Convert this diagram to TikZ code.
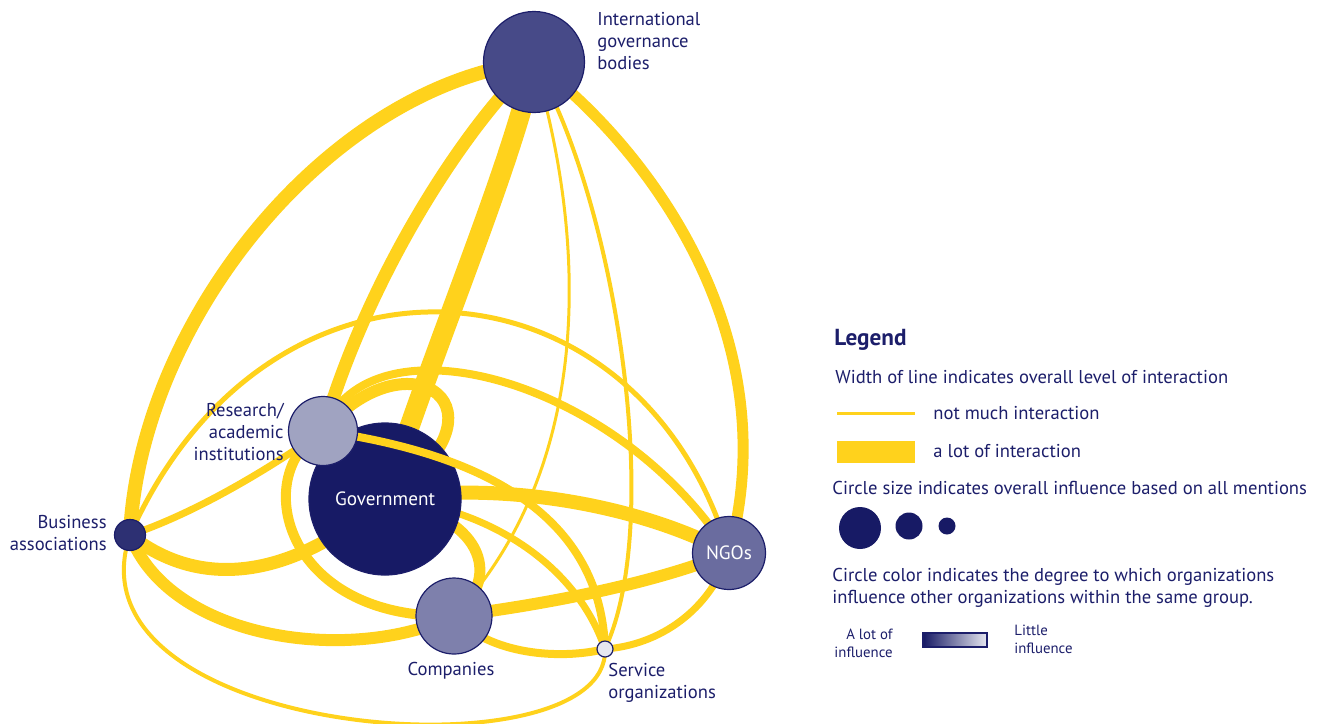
\documentclass[tikz,border=0pt]{standalone}
\usepackage{fontspec}
\setmainfont{PT Sans}

\definecolor{navy}{HTML}{1C1E6A}
\definecolor{linkgold}{HTML}{FFD21C}
\definecolor{govblue}{HTML}{171A65}
\definecolor{intlblue}{HTML}{474A88}
\definecolor{resblue}{HTML}{A0A3C1}
\definecolor{busblue}{HTML}{2D3073}
\definecolor{ngoblue}{HTML}{6A6C9F}
\definecolor{comblue}{HTML}{7E80AC}
\definecolor{svcblue}{HTML}{E6E7F0}

\pgfdeclarelayer{links}
\pgfdeclarelayer{front}
\pgfsetlayers{links,main,front}

\tikzset{
  org/.style={circle, draw=navy, line width=0.6pt, inner sep=0pt, minimum size=#1},
  tie/.style={draw=linkgold, line width=#1},
  lbl/.style={text=navy, inner sep=0pt, font=\fontsize{9.3}{11}\selectfont},
  small lbl/.style={text=navy, inner sep=0pt, font=\fontsize{7.4}{9}\selectfont},
  dot/.style={circle, fill=govblue, inner sep=0pt, minimum size=#1},
}

\begin{document}
\begin{tikzpicture}[x=0.5pt, y=-0.5pt]
  \useasboundingbox (0,0) rectangle (1320,723);

  % groups; government in the main layer, the rest on top of the links
  \node[org=76pt, fill=govblue, text=white, font=\fontsize{9.6}{11}\selectfont] (gov) at (385,499) {Government};
  \begin{pgfonlayer}{front}
    \node[org=50.5pt, fill=intlblue] (intl) at (534,62) {};
    \node[org=34.5pt, fill=resblue] (res) at (323,431) {};
    \node[org=15.5pt, fill=busblue] (bus) at (130,535) {};
    \node[org=36.5pt, fill=ngoblue, text=white, font=\fontsize{9.6}{11}\selectfont] (ngo) at (729,553) {NGOs};
    \node[org=38pt, fill=comblue] (com) at (454,616) {};
    \node[org=8pt, fill=svcblue] (svc) at (605,649) {};
  \end{pgfonlayer}

  % names (base = last line)
  \node[lbl, anchor=base west, align=left] (intl-txt) at (597,69) {International\\governance\\bodies};
  \node[lbl, anchor=base east, align=right] (res-txt) at (284,460) {Research/\\academic\\institutions};
  \node[lbl, anchor=base east, align=right] (bus-txt) at (107,550) {Business\\associations};
  \node[lbl, anchor=base] (com-txt) at (451,675) {Companies};
  \node[lbl, anchor=base west, align=left] (svc-txt) at (608,698) {Service\\organizations};

  % links, line width = amount of interaction
  \begin{pgfonlayer}{links}
    \draw[tie=7pt] (intl.center) .. controls (330,85) and (140,320) .. (bus.center);
    \draw[tie=6.5pt] (intl.center) .. controls (470,120) and (370,270) .. (res.center);
    \draw[tie=10pt] (intl.center) .. controls (510,170) and (440,330) .. (gov.center);
    \draw[tie=5.5pt] (intl.center) .. controls (640,140) and (790,330) .. (ngo.center);
    \draw[tie=1.5pt] (intl.center) .. controls (590,250) and (590,470) .. (com.center);
    \draw[tie=2pt] (intl.center) .. controls (615,200) and (665,520) .. (svc.center);
    \draw[tie=3.5pt] (res.center) .. controls (260,475) and (190,515) .. (bus.center);
    \draw[tie=4pt] (res.center) .. controls (370,310) and (620,380) .. (ngo.center);
    \draw[tie=6pt] (res.center) .. controls (410,330) and (520,410) .. (gov.center);
    \draw[tie=5pt] (res.center) .. controls (250,470) and (280,620) .. (com.center);
    \draw[tie=2.5pt] (bus.center) .. controls (270,220) and (640,250) .. (ngo.center);
    \draw[tie=6.5pt] (bus.center) .. controls (200,590) and (290,580) .. (gov.center);
    \draw[tie=6pt] (bus.center) .. controls (170,640) and (350,665) .. (com.center);
    \draw[tie=2pt] (bus.center) .. controls (60,740) and (610,780) .. (svc.center);
    \draw[tie=7pt] (gov.center) .. controls (500,480) and (640,505) .. (ngo.center);
    \draw[tie=5.5pt] (gov.center) .. controls (480,515) and (505,575) .. (com.center);
    \draw[tie=3.5pt] (gov.center) .. controls (480,505) and (575,560) .. (svc.center);
    \draw[tie=6pt] (com.center) .. controls (540,605) and (650,585) .. (ngo.center);
    \draw[tie=4pt] (com.center) .. controls (490,655) and (560,660) .. (svc.center);
    \draw[tie=3.5pt] (svc.center) .. controls (660,645) and (710,610) .. (ngo.center);
  \end{pgfonlayer}
  % runs across the government circle
  \draw[tie=4pt] (res.center) .. controls (455,450) and (600,500) .. (svc.center);

  % legend
  \node[anchor=base west, inner sep=0pt, text=navy, font=\bfseries\fontsize{11.6}{13}\selectfont] (leg-title) at (834,345) {Legend};
  \node[lbl, anchor=base west] (leg-width) at (835,383) {Width of line indicates overall level of interaction};
  \coordinate (thin-a) at (837,413);
  \coordinate (thin-b) at (915,413);
  \draw[tie=1.5pt] (thin-a) -- (thin-b);
  \coordinate (thick-a) at (837,452);
  \coordinate (thick-b) at (915,452);
  \draw[tie=11pt] (thick-a) -- (thick-b);
  \node[lbl, anchor=base west] (leg-low) at (933,419) {not much interaction};
  \node[lbl, anchor=base west] (leg-high) at (933,457) {a lot of interaction};
  \node[lbl, anchor=base west] (leg-size) at (832,494) {Circle size indicates overall influence based on all mentions};
  \node[dot=21pt] (size-big) at (860,528) {};
  \node[dot=13.5pt] (size-mid) at (909,526) {};
  \node[dot=8.5pt] (size-low) at (947,526) {};
  \node[lbl, anchor=base west, align=left] (leg-color) at (832,603) {Circle color indicates the degree to which organizations\\influence other organizations within the same group.};
  \node[small lbl, anchor=base east, align=right] (leg-much) at (893,657) {A lot of\\influence};
  \shadedraw[left color=govblue, right color=svcblue, draw=navy, line width=0.6pt] (923,633) rectangle (987,647);
  \node[small lbl, anchor=base west, align=left] (leg-little) at (1014,653) {Little\\influence};
\end{tikzpicture}
\end{document}
